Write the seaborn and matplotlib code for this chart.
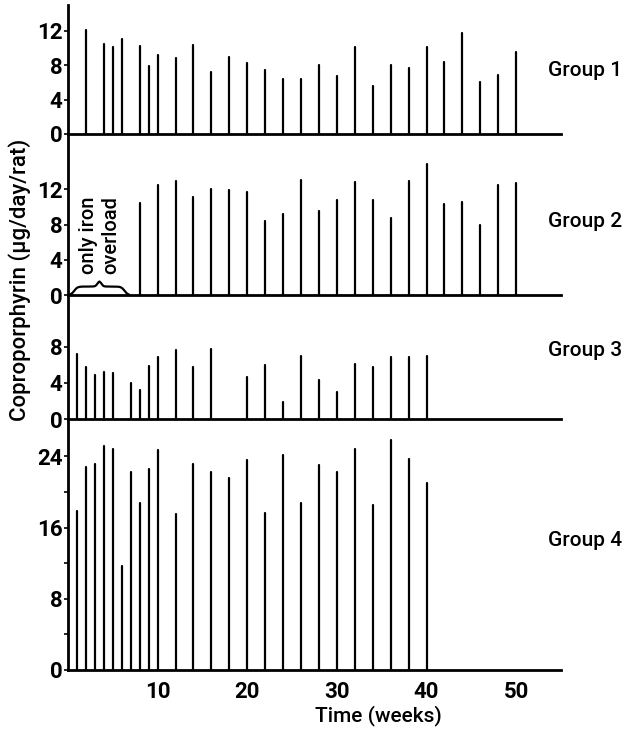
import numpy as np
import pandas as pd
import matplotlib
matplotlib.use("Agg")
import matplotlib.pyplot as plt
import matplotlib.transforms as mtransforms
import seaborn as sns

# ---- data ----
g1_weeks = [2, 4, 5, 6, 8, 9, 10, 12, 14, 16, 18, 20, 22, 24, 26, 28, 30, 32, 34, 36, 38, 40, 42, 44, 46, 48, 50]
g1_vals = [12.1, 10.5, 10.1, 11.0, 10.2, 7.9, 9.2, 8.8, 10.4, 7.2, 8.9, 8.3, 7.5, 6.4, 6.4, 8.0, 6.8, 10.1, 5.6, 8.0, 7.7, 10.1, 8.4, 11.8, 6.0, 6.9, 9.5]

g2_weeks = [8, 10, 12, 14, 16, 18, 20, 22, 24, 26, 28, 30, 32, 34, 36, 38, 40, 42, 44, 46, 48, 50]
g2_vals = [10.5, 12.5, 13.0, 11.1, 12.0, 11.9, 11.7, 8.4, 9.2, 13.1, 9.6, 10.8, 12.9, 10.8, 8.8, 13.0, 14.9, 10.3, 10.6, 7.9, 12.5, 12.7]

g3_weeks = [1, 2, 3, 4, 5, 7, 8, 9, 10, 12, 14, 16, 20, 22, 24, 26, 28, 30, 32, 34, 36, 38, 40]
g3_vals = [7.2, 5.8, 4.9, 5.2, 5.1, 4.0, 3.2, 5.9, 6.9, 7.6, 5.8, 7.7, 4.6, 6.0, 1.9, 7.0, 4.3, 3.0, 6.1, 5.8, 6.9, 6.8, 7.0]

g4_weeks = [1, 2, 3, 4, 5, 6, 7, 8, 9, 10, 12, 14, 16, 18, 20, 22, 24, 26, 28, 30, 32, 34, 36, 38, 40]
g4_vals = [17.9, 22.8, 23.2, 25.2, 24.8, 11.7, 22.2, 18.8, 22.6, 24.7, 17.5, 23.2, 22.3, 21.6, 23.6, 17.6, 24.1, 18.8, 23.0, 22.2, 24.8, 18.5, 25.8, 23.7, 21.0]

group_names = ["Group 1", "Group 2", "Group 3", "Group 4"]
y_ticks = [[0, 4, 8, 12], [0, 4, 8, 12], [0, 4, 8], [0, 8, 16, 24]]
x_ticks = [10, 20, 30, 40, 50]
x_label = "Time (weeks)"
y_label = "Coproporphyrin (\u03bcg/day/rat)"
note = "only iron\noverload"

# ---- style ----
sns.set_theme(style="white")
plt.rcParams["font.family"] = ["Roboto", "Liberation Sans", "DejaVu Sans"]
plt.rcParams["font.weight"] = "medium"
plt.rcParams["axes.linewidth"] = 1.8

W, H = 635, 738
fig = plt.figure(figsize=(W / 100, H / 100), dpi=100)

left_px, right_px = 68, 561
# (bottom_px, top_px, ymax)
panels = [(134, 5, 15.0), (295, 134, 18.3), (419, 295, 13.7), (670, 419, 28.2)]
label_y = [7.4, 8.3, 7.6, 14.6]
data = [(g1_weeks, g1_vals), (g2_weeks, g2_vals), (g3_weeks, g3_vals), (g4_weeks, g4_vals)]

axes = []
for i, ((bpx, tpx, ymax), (wk, vals)) in enumerate(zip(panels, data)):
    ax = fig.add_axes([left_px / W, 1 - bpx / H, (right_px - left_px) / W, (bpx - tpx) / H])
    axes.append(ax)
    rows = []
    for w, v in zip(wk, vals):
        rows.append({"week": w, "value": 0.0, "stem": w})
        rows.append({"week": w, "value": v, "stem": w})
    df = pd.DataFrame(rows)
    sns.lineplot(data=df, x="week", y="value", units="stem", estimator=None,
                 color="black", lw=1.6, ax=ax, legend=False)
    ax.set_xlim(0, 55)
    ax.set_ylim(0, ymax)
    sns.despine(ax=ax, top=True, right=True)
    for s in ["left", "bottom"]:
        ax.spines[s].set_color("black")
        ax.spines[s].set_linewidth(2.0)
    ax.set_yticks(y_ticks[i])
    ax.set_yticklabels([str(t) for t in y_ticks[i]], fontweight="bold")
    ax.tick_params(axis="y", left=True, direction="out", length=3, width=1.2,
                   pad=1, labelsize=16, colors="black")
    ax.set_xlabel("")
    ax.set_ylabel("")
    if i < 3:
        ax.set_xticks([])
    else:
        ax.set_xticks(x_ticks)
        ax.set_xticklabels([str(t) for t in x_ticks], fontweight="bold")
        ax.tick_params(axis="x", bottom=True, length=0, pad=8, labelsize=16, colors="black")
        ax.set_yticks([4, 12, 20], minor=True)
        ax.tick_params(axis="y", which="minor", left=True, length=3, width=1.2, colors="black")
    trans = mtransforms.blended_transform_factory(ax.transAxes, ax.transData)
    ax.text(0.974, label_y[i], group_names[i], transform=trans, ha="left", va="center",
            fontsize=15, color="black", clip_on=False)
    ax.set_facecolor("none")

# annotation in group 2: brace + rotated text
ax2 = axes[1]
x0, x1, hb = 0.2, 6.8, 1.6
t = np.linspace(0, 1, 300)
half = (x1 - x0) / 2
xl = x0 + t * half
yl = hb * (0.6 / (1 + np.exp(-18 * (t - 0.15))) + 0.4 / (1 + np.exp(-30 * (t - 0.93))))
xr = x1 - t * half
ax2.plot(np.concatenate([xl, xr[::-1]]), np.concatenate([yl, yl[::-1]]),
         color="black", lw=1.6, solid_capstyle="round")
ax2.text(3.5, 6.8, note, rotation=90, ha="center", va="center", fontsize=14.5,
         linespacing=1.2, color="black")

fig.text(20 / W, 1 - 280 / H, y_label, rotation=90, ha="center", va="center",
         fontsize=16, color="black")
fig.text(378 / W, 1 - 716 / H, x_label, ha="center", va="center", fontsize=15, color="black")

fig.savefig("out.png", dpi=100, facecolor="white")
